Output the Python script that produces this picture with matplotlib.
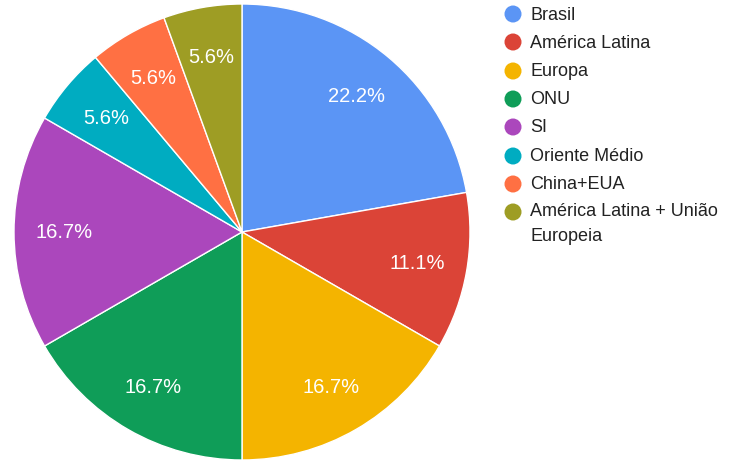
import matplotlib
matplotlib.use('Agg')
import matplotlib.pyplot as plt
from matplotlib.patches import Circle

categories = ['Brasil', 'América Latina', 'Europa', 'ONU', 'SI',
              'Oriente Médio', 'China+EUA', 'América Latina + União\nEuropeia']
values = [4, 2, 3, 3, 3, 1, 1, 1]
colors = ['#5b95f5', '#db4437', '#f4b400', '#0f9d58', '#ab47bc',
          '#00acc1', '#ff7043', '#9e9d24']

plt.rcParams['font.family'] = ['Liberation Sans', 'DejaVu Sans']

W, H = 742, 464
fig = plt.figure(figsize=(W / 100, H / 100), dpi=100)

# pie area: centre (242, 233), radius 228 in pixels
cx, cy, r = 242, 233, 228
ax = fig.add_axes([(cx - r) / W, (H - cy - r) / H, 2 * r / W, 2 * r / H])
wedges, texts, autotexts = ax.pie(
    values, colors=colors, startangle=90, counterclock=False,
    autopct='%1.1f%%', pctdistance=0.78, radius=1,
    wedgeprops=dict(edgecolor='white', linewidth=1),
    textprops=dict(color='white', fontsize=14.5))
ax.set_xlim(-1, 1)
ax.set_ylim(-1, 1)
ax.set_aspect('equal')
ax.axis('off')

# legend drawn by hand, in pixel coordinates
lax = fig.add_axes([0, 0, 1, 1])
lax.set_xlim(0, W)
lax.set_ylim(H, 0)
lax.axis('off')
row_y = [15, 43, 72, 100, 128, 157, 185, 213]
for y, name, c in zip(row_y, categories, colors):
    lax.add_patch(Circle((513, y), 8.5, color=c, lw=0))
    if '\n' in name:
        lax.text(530, y - 10, name, va='top', fontsize=13,
                 color='#222222', linespacing=1.6)
    else:
        lax.text(530, y, name, va='center', fontsize=13, color='#222222')

fig.savefig('out.png', dpi=100)
